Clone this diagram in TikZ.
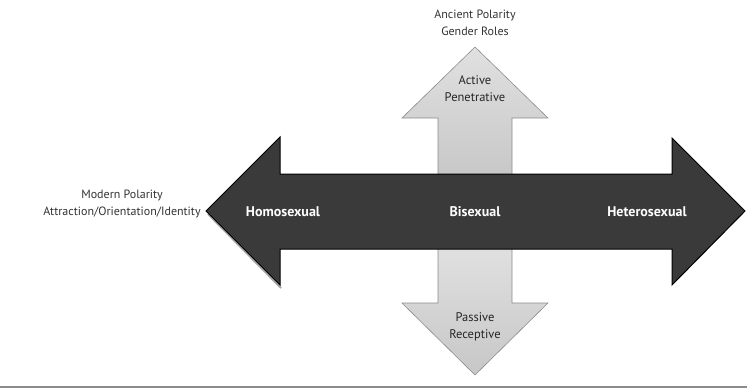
\documentclass[tikz,border=0pt]{standalone}
\usepackage{fontspec}
\setmainfont{PT Sans}
\usepackage{tikz}
\usetikzlibrary{calc}
\definecolor{darkarrow}{HTML}{3B3A3A}
\definecolor{lightarrow}{HTML}{D6D6D6}
\tikzset{
  polarity/.style = {font=\fontsize{12}{17}\selectfont, align=center, text=black!80},
  inlabel/.style  = {font=\fontsize{14}{16}\selectfont\bfseries, text=white},
  vlabel/.style   = {font=\fontsize{12.5}{17}\selectfont, align=center, text=black!85},
  harrow/.style   = {fill=darkarrow, draw=black, line width=1pt, line join=miter},
  varrow/.style   = {top color=black!12, bottom color=black!22, draw=black!45, line width=0.6pt}
}

\begin{document}
\begin{tikzpicture}[x=1pt,y=-1pt]
  \useasboundingbox (0,0) rectangle (747,391);

  % vertical arrow (gender roles)
  \draw[varrow] (475,47) -- (548,118) -- (512,118) -- (512,180) -- (438,180)
     -- (438,118) -- (402,118) -- cycle;
  \draw[varrow] (438,245) -- (512,245) -- (512,303) -- (548,303) -- (475,375)
     -- (402,303) -- (438,303) -- cycle;

  % horizontal arrow (orientation)
  \draw[black!35, line width=2pt] (208,214) -- (281,288);
  \draw[harrow] (206,211) -- (280,137) -- (280,174) -- (672,174) -- (672,138)
     -- (745,211) -- (672,285) -- (672,249) -- (280,249) -- (280,285) -- cycle;

  % labels
  \node[polarity] (ancient) at (475,23) {Ancient Polarity\\Gender Roles};
  \node[polarity] (modern) at (122,204) {Modern Polarity\\Attraction/Orientation/Identity};
  \node[vlabel] (active) at (475,89) {Active\\Penetrative};
  \node[vlabel] (passive) at (475,327) {Passive\\Receptive};
  \node[inlabel] (homo) at (283,212) {Homosexual};
  \node[inlabel] (bi) at (475,212) {Bisexual};
  \node[inlabel] (hetero) at (647,212) {Heterosexual};

  % rule at the bottom
  \draw[black!45, line width=1.2pt] (0,387) -- (747,387);
\end{tikzpicture}
\end{document}
